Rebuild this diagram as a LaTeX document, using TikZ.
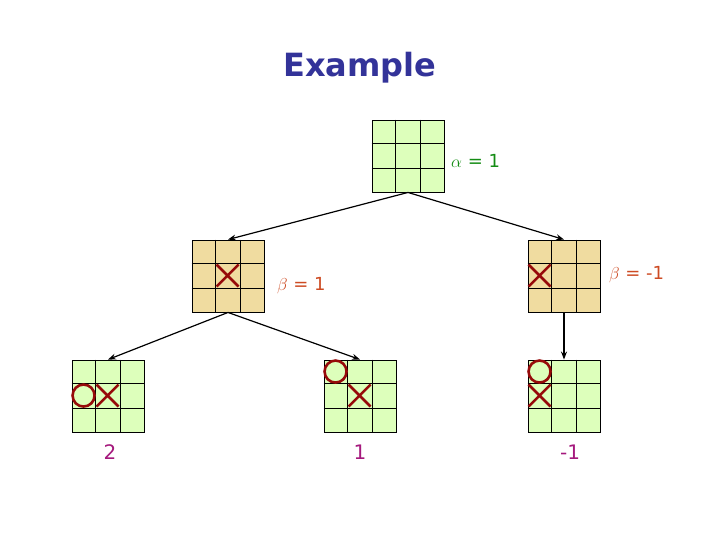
\documentclass[tikz,border=0pt]{standalone}
\usepackage{fontspec}
\setmainfont{DejaVu Sans}
\usetikzlibrary{arrows.meta,calc}

\definecolor{boardgreen}{RGB}{221,255,187}
\definecolor{boardtan}{RGB}{240,220,160}
\definecolor{markred}{RGB}{150,10,10}
\definecolor{titleblue}{RGB}{51,51,153}
\definecolor{alphagreen}{RGB}{20,140,20}
\definecolor{betared}{RGB}{205,75,35}
\definecolor{valpurple}{RGB}{165,25,125}

\tikzset{
    board/.style={draw=black,line width=0.9pt,minimum size=72pt,inner sep=0pt,fill=#1},
    edge/.style={line width=1.2pt,-{Stealth[length=8pt,width=6pt]}},
    markline/.style={draw=markred,line width=2.6pt},
    lab/.style={font=\fontsize{18}{21}\selectfont,inner sep=0pt,anchor=west},
    val/.style={font=\fontsize{20}{24}\selectfont,text=valpurple,inner sep=0pt}
}

% grid lines inside a board node
\newcommand{\boardlines}[1]{%
    \foreach \t in {1,2} {
        \draw[line width=0.9pt] ($(#1.north west)!\t/3!(#1.north east)$) -- ($(#1.south west)!\t/3!(#1.south east)$);
        \draw[line width=0.9pt] ($(#1.north west)!\t/3!(#1.south west)$) -- ($(#1.north east)!\t/3!(#1.south east)$);
    }}
% cross in cell (col,row) of a board
\newcommand{\crossmark}[3]{%
    \draw[markline] ($(#1.north west)+(12+24*#2,12+24*#3)$) ++(-11,-11) -- ++(22,22)
        ++(0,-22) -- ++(-22,22);}
% nought in cell (col,row) of a board
\newcommand{\noughtmark}[3]{%
    \draw[markline] ($(#1.north west)+(12+24*#2,12+24*#3)$) circle (11);}

\begin{document}
\begin{tikzpicture}[x=1pt,y=-1pt]
    \useasboundingbox (0,0) rectangle (720,540);

    \node[font=\bfseries\fontsize{32}{38}\selectfont,text=titleblue] (title) at (360,68) {Example};

    % boards
    \node[board=boardgreen] (root) at (408,156) {};
    \node[board=boardtan] (midleft) at (228,276) {};
    \node[board=boardtan] (midright) at (564,276) {};
    \node[board=boardgreen] (leafa) at (108,396) {};
    \node[board=boardgreen] (leafb) at (360,396) {};
    \node[board=boardgreen] (leafc) at (564,396) {};
    \foreach \b in {root,midleft,midright,leafa,leafb,leafc} {\boardlines{\b}}

    % marks
    \crossmark{midleft}{1}{1}
    \crossmark{midright}{0}{1}
    \noughtmark{leafa}{0}{1}
    \crossmark{leafa}{1}{1}
    \noughtmark{leafb}{0}{0}
    \crossmark{leafb}{1}{1}
    \noughtmark{leafc}{0}{0}
    \crossmark{leafc}{0}{1}

    % moves
    \draw[edge] (root.south) -- (midleft.north);
    \draw[edge] (root.south) -- (midright.north);
    \draw[edge] (midleft.south) -- (leafa.north);
    \draw[edge] (midleft.south) -- (leafb.north);
    \draw[edge] (midright.south) -- (leafc.north);

    % bounds and values
    \node[lab,text=alphagreen] (alab) at (451,161) {$\alpha$ = 1};
    \node[lab,text=betared] (blab) at (277,286) {$\beta$ = 1};
    \node[lab,text=betared] (clab) at (609,275) {$\beta$ = -1};
    \node[val] (va) at (110,452) {2};
    \node[val] (vb) at (360,452) {1};
    \node[val] (vc) at (570,452) {-1};
\end{tikzpicture}
\end{document}
